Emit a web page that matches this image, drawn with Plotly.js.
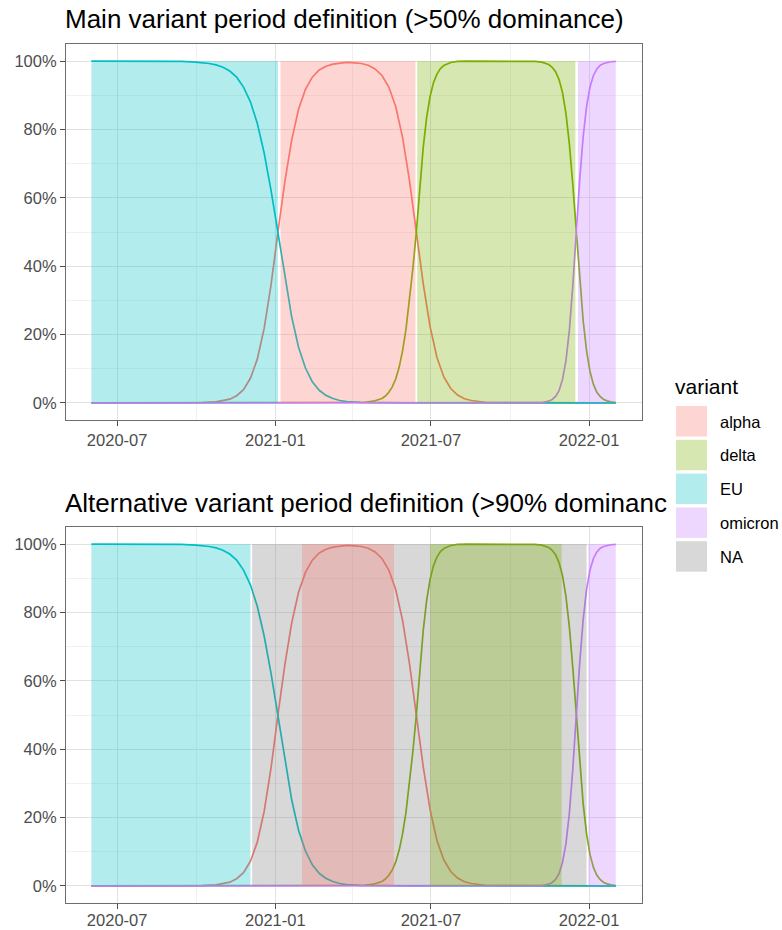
<!DOCTYPE html>
<html>
<head>
<meta charset="utf-8">
<script src="https://cdn.plot.ly/plotly-3.0.1.min.js"></script>
<style>
  html, body { margin: 0; padding: 0; background: #ffffff; }
  #chart { width: 782px; height: 930px; }
</style>
</head>
<body>
<div id="chart"></div>
<script>
// ---------------- data ----------------
const variants = ['alpha', 'delta', 'EU', 'omicron'];
const legendCategories = ['alpha', 'delta', 'EU', 'omicron', 'NA'];

const euDates = ['2020-06-01','2020-08-01','2020-09-14','2020-09-30','2020-10-08','2020-10-16','2020-10-24','2020-11-01','2020-11-09','2020-11-17',
  '2020-11-25','2020-12-03','2020-12-11','2020-12-19','2020-12-27','2021-01-04','2021-01-12','2021-01-20','2021-01-28','2021-02-05',
  '2021-02-13','2021-02-21','2021-03-01','2021-03-09','2021-03-17','2021-03-25','2021-04-10','2021-06-01','2022-02-01'];
const euShare = [1,1,0.999,0.997,0.996,0.993,0.989,0.982,0.971,0.953,
  0.924,0.881,0.818,0.731,0.622,0.5,0.367,0.252,0.163,0.102,
  0.062,0.037,0.022,0.013,0.007,0.004,0.0015,0,0];

const alphaDates = ['2020-06-01','2020-09-01','2020-10-08','2020-10-24','2020-11-01','2020-11-09','2020-11-17','2020-11-25','2020-12-03','2020-12-11',
  '2020-12-19','2020-12-27','2021-01-04','2021-01-12','2021-01-20','2021-01-28','2021-02-05','2021-02-13','2021-02-21','2021-03-01',
  '2021-03-09','2021-03-17','2021-03-25','2021-04-03','2021-04-11','2021-04-19','2021-04-27','2021-05-05','2021-05-13','2021-05-21',
  '2021-05-29','2021-06-06','2021-06-14','2021-06-22','2021-06-30','2021-07-08','2021-07-16','2021-07-24','2021-08-01','2021-08-09',
  '2021-08-17','2021-08-25','2021-09-02','2021-09-18','2021-11-01','2022-02-01'];
const alphaShare = [0,0,0.001,0.003,0.006,0.011,0.021,0.039,0.072,0.128,
  0.218,0.345,0.5,0.646,0.769,0.859,0.917,0.953,0.974,0.985,
  0.991,0.994,0.996,0.995,0.993,0.988,0.977,0.958,0.924,0.867,
  0.777,0.651,0.5,0.349,0.223,0.133,0.076,0.042,0.023,0.012,
  0.007,0.004,0.002,0.001,0,0];

const deltaDates = ['2020-06-01','2021-03-01','2021-04-15','2021-04-25','2021-05-01','2021-05-05','2021-05-09','2021-05-13','2021-05-17','2021-05-21',
  '2021-05-25','2021-05-29','2021-06-02','2021-06-06','2021-06-10','2021-06-14','2021-06-18','2021-06-22','2021-06-26','2021-06-30',
  '2021-07-04','2021-07-08','2021-07-12','2021-07-16','2021-07-24','2021-08-01','2021-08-13','2021-09-15','2021-10-18','2021-10-30',
  '2021-11-07','2021-11-11','2021-11-15','2021-11-19','2021-11-23','2021-11-27','2021-12-01','2021-12-05','2021-12-09','2021-12-13',
  '2021-12-17','2021-12-21','2021-12-25','2021-12-29','2022-01-02','2022-01-06','2022-01-10','2022-01-14','2022-01-18','2022-01-22',
  '2022-01-26','2022-02-01'];
const deltaShare = [0,0,0.002,0.005,0.009,0.013,0.020,0.031,0.047,0.070,
  0.104,0.152,0.216,0.297,0.394,0.5,0.632,0.747,0.835,0.897,
  0.937,0.962,0.978,0.987,0.996,0.999,1,1,1,0.999,
  0.997,0.994,0.990,0.982,0.969,0.946,0.908,0.847,0.758,0.639,
  0.5,0.361,0.242,0.153,0.092,0.054,0.031,0.018,0.010,0.006,
  0.003,0.001];

const omicronDates = ['2020-06-01','2021-10-01','2021-10-30','2021-11-07','2021-11-11','2021-11-15','2021-11-19','2021-11-23','2021-11-27','2021-12-01',
  '2021-12-05','2021-12-09','2021-12-13','2021-12-17','2021-12-21','2021-12-25','2021-12-29','2022-01-02','2022-01-06','2022-01-10',
  '2022-01-14','2022-01-18','2022-01-22','2022-01-26','2022-02-01'];
const omicronShare = [0,0,0,0.001,0.003,0.005,0.010,0.019,0.036,0.068,
  0.123,0.212,0.342,0.5,0.651,0.777,0.867,0.924,0.958,0.977,
  0.988,0.993,0.996,0.998,0.999];

// period bands (>50% dominance)
const mainBandVariant = ['EU','alpha','delta','omicron'];
const mainBandStart   = ['2020-06-01','2021-01-07','2021-06-15','2021-12-19'];
const mainBandEnd     = ['2021-01-04','2021-06-13','2021-12-16','2022-02-01'];
// period bands (>90% dominance)
const altBandVariant = ['NA','EU','alpha','delta','omicron'];
const altBandStart   = ['2020-12-05','2020-06-01','2021-02-01','2021-06-30','2021-12-31'];
const altBandEnd     = ['2021-12-29','2020-12-03','2021-05-19','2021-11-30','2022-02-01'];

const xTickVals = ['2020-07-01','2021-01-01','2021-07-01','2022-01-01'];
const xTickText = ['2020-07','2021-01','2021-07','2022-01'];
const xMinorVals = ['2020-10-01','2021-04-01','2021-10-01'];
const yTickVals = [0, 0.2, 0.4, 0.6, 0.8, 1];
const yTickText = ['0%','20%','40%','60%','80%','100%'];
const yMinorVals = [0.1, 0.3, 0.5, 0.7, 0.9];

const titleMain = 'Main variant period definition (>50% dominance)';
const titleAlt = 'Alternative variant period definition (>90% dominanc';
const legendTitle = 'variant';

// ---------------- styling ----------------
const lineColor = {alpha:'#F8766D', delta:'#7CAE00', EU:'#00BFC4', omicron:'#C77CFF'};
const fillColor = {
  alpha:'rgba(248,118,109,0.3)', delta:'rgba(124,174,0,0.3)', EU:'rgba(0,191,196,0.3)',
  omicron:'rgba(199,124,255,0.3)', NA:'rgba(127,127,127,0.3)'
};
const series = {
  alpha: [alphaDates, alphaShare], delta: [deltaDates, deltaShare],
  EU: [euDates, euShare], omicron: [omicronDates, omicronShare]
};

const W = 782, H = 930;
const px = v => v / W;
const py = v => 1 - v / H;
const FONT = 'Liberation Sans, Arial, sans-serif';

const traces = [];
function addPanel(xa, ya, bandVar, bandStart, bandEnd) {
  variants.forEach(v => {
    traces.push({
      type: 'scatter', mode: 'lines', x: series[v][0], y: series[v][1],
      xaxis: xa, yaxis: ya, showlegend: false, hoverinfo: 'skip',
      line: {color: lineColor[v], width: 1.7}
    });
  });
  bandVar.forEach((v, i) => {
    traces.push({
      type: 'scatter', mode: 'none', fill: 'toself', fillcolor: fillColor[v],
      x: [bandStart[i], bandStart[i], bandEnd[i], bandEnd[i], bandStart[i]],
      y: [0, 1, 1, 0, 0],
      xaxis: xa, yaxis: ya, showlegend: false, hoverinfo: 'skip'
    });
  });
}
addPanel('x', 'y', mainBandVariant, mainBandStart, mainBandEnd);
addPanel('x2', 'y2', altBandVariant, altBandStart, altBandEnd);

const xDomain = [px(66), px(642)];
function xAxis(anchor, standoff) {
  return {
    type: 'date', domain: xDomain, anchor: anchor,
    range: ['2020-05-02 12:00', '2022-03-03 12:00'],
    tickmode: 'array', tickvals: xTickVals, ticktext: xTickText,
    ticks: 'outside', ticklen: 5, tickwidth: 1.1, tickcolor: '#4d4d4d',
    ticklabelstandoff: standoff,
    showline: true, mirror: true, linecolor: '#6e6e6e', linewidth: 1.1,
    showgrid: true, gridcolor: '#E2E2E2', gridwidth: 1.1, zeroline: false,
    tickfont: {family: FONT, size: 16.5, color: '#4D4D4D'},
    minor: {tickmode: 'array', tickvals: xMinorVals, showgrid: true, gridcolor: '#EEEEEE', gridwidth: 0.8, ticks: ''}
  };
}
function yAxis(anchor, dom) {
  return {
    domain: dom, anchor: anchor, range: [-0.05, 1.05],
    tickmode: 'array', tickvals: yTickVals, ticktext: yTickText,
    ticks: 'outside', ticklen: 5, tickwidth: 1.1, tickcolor: '#4d4d4d',
    showline: true, mirror: true, linecolor: '#6e6e6e', linewidth: 1.1,
    showgrid: true, gridcolor: '#E2E2E2', gridwidth: 1.1, zeroline: false,
    tickfont: {family: FONT, size: 16.5, color: '#4D4D4D'},
    minor: {tickmode: 'array', tickvals: yMinorVals, showgrid: true, gridcolor: '#EEEEEE', gridwidth: 0.8, ticks: ''}
  };
}

const annotations = [
  {text: titleMain, xref: 'paper', yref: 'paper', x: px(63), y: py(19), xanchor: 'left', yanchor: 'middle',
   showarrow: false, font: {family: FONT, size: 26, color: '#000000'}},
  {text: titleAlt, xref: 'paper', yref: 'paper', x: px(63), y: py(503), xanchor: 'left', yanchor: 'middle',
   showarrow: false, font: {family: FONT, size: 26, color: '#000000'}},
  {text: legendTitle, xref: 'paper', yref: 'paper', x: px(673), y: py(386), xanchor: 'left', yanchor: 'middle',
   showarrow: false, font: {family: FONT, size: 21, color: '#000000'}}
];
const shapes = [];
legendCategories.forEach((c, i) => {
  const y0 = 406 + 33.8 * i;
  shapes.push({type: 'rect', xref: 'paper', yref: 'paper', x0: px(676), x1: px(707), y0: py(y0), y1: py(y0 + 30.5),
    fillcolor: fillColor[c], line: {width: 0}});
  annotations.push({text: c, xref: 'paper', yref: 'paper', x: px(718), y: py(y0 + 15.5), xanchor: 'left', yanchor: 'middle',
    showarrow: false, font: {family: FONT, size: 16.5, color: '#000000'}});
});

const layout = {
  width: W, height: H,
  margin: {l: 0, r: 0, t: 0, b: 0},
  paper_bgcolor: '#ffffff', plot_bgcolor: '#ffffff',
  showlegend: false,
  font: {family: FONT},
  xaxis: xAxis('y', 0),
  yaxis: yAxis('x', [py(420), py(44)]),
  xaxis2: xAxis('y2', -3),
  yaxis2: yAxis('x2', [py(903), py(527)]),
  annotations: annotations,
  shapes: shapes
};

Plotly.newPlot('chart', traces, layout, {displayModeBar: false, staticPlot: true});
</script>
</body>
</html>
